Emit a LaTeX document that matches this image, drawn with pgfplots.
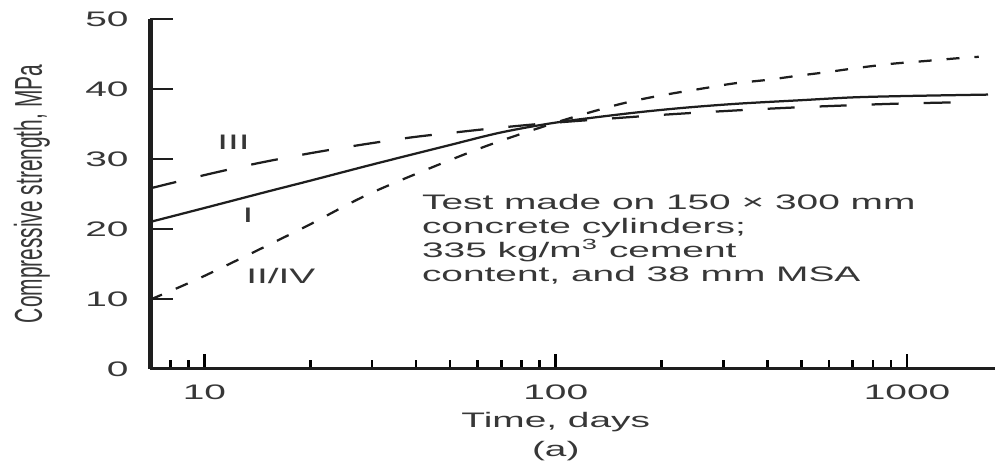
\documentclass[border=0pt]{standalone}
\usepackage{fontspec}
\setmainfont[FakeStretch=1.85]{Liberation Sans}
\newfontfamily\ylabfont[FakeStretch=0.54]{Liberation Sans}
\usepackage{pgfplots}
\pgfplotsset{compat=1.18}
\definecolor{txt}{RGB}{55,55,55}
\definecolor{ln}{RGB}{30,30,30}
\newcommand\f{\fontsize{8.4}{9.6}\selectfont}
\begin{document}
\begin{tikzpicture}
\begin{axis}[name=ax, scale only axis, width=338pt, height=140pt,
  xmode=log, xmin=7, xmax=1780, ymin=0, ymax=50, clip=false,
  axis lines=left, axis line style={-, ln},
  x axis line style={line width=1.2pt}, y axis line style={line width=2pt},
  ytick={0,10,20,30,40,50}, yticklabels={0,10,20,30,40,50},
  xtick={10,100,1000}, xticklabels={10,100,1000},
  minor xtick={8,9,20,30,40,50,60,70,80,90,200,300,400,500,600,700,800,900},
  tick align=inside,
  major tick length=6pt, minor tick length=3.4pt,
  xtick style={black, line width=1.1pt},
  minor x tick style={black, line width=1.1pt},
  ytick style={ln, line width=1.1pt, /pgfplots/major tick length=9.2pt},
  yticklabel style={anchor=east, inner sep=0pt, xshift=-8.4pt, text=txt, font=\f},
  xticklabel style={anchor=base, inner sep=0pt, yshift=-12.4pt, text=txt, font=\f},
]
% Type I (solid)
\addplot[ln, line width=0.9pt, smooth] coordinates {
 (7,21.0) (10,23.0) (15,25.3) (20,26.9) (30,29.2) (50,32.0) (70,33.8) (100,35.2)
 (160,36.5) (230,37.3) (330,37.9) (500,38.4) (700,38.8) (1000,39.0) (1700,39.2)};
% Type III (long dash)
\addplot[ln, line width=0.9pt, smooth, dash pattern=on 10.8pt off 10pt] coordinates {
 (7,25.8) (10.2,27.8) (14.2,29.4) (19.9,30.8) (27.7,32.0) (39,33.1) (54,33.9) (70,34.5)
 (100,35.2) (200,36.3) (316,36.9) (450,37.3) (630,37.6) (930,37.9) (1400,38.1)};
% Type II/IV (short dash)
\addplot[ln, line width=0.9pt, smooth, dash pattern=on 5.2pt off 6pt] coordinates {
 (7,9.9) (10,13.3) (19,20.1) (30,25.2) (60,31.4) (100,35.2) (146,37.6) (178,38.6)
 (217,39.4) (264,40.1) (322,40.8) (400,41.3) (490,41.9) (590,42.4) (720,43.0)
 (905,43.6) (1130,44.0) (1400,44.4) (1600,44.6)};
\node[text=txt, font=\f, inner sep=0pt] at (axis cs:12.1,32.4) {III};
\node[text=txt, font=\f, inner sep=0pt] at (axis cs:13.3,22.0) {I};
\node[text=txt, font=\f, inner sep=0pt] at (axis cs:16.5,13.3) {II/IV};
\node[text=txt, font=\f, inner sep=0pt, anchor=north west, align=left] at (axis cs:41.5,25.1)
 {Test made on 150 × 300 mm\\concrete cylinders;\\335 kg/m\textsuperscript{3} cement\\content, and 38 mm MSA};
\node[text=txt, font=\f, inner sep=0pt, anchor=base, yshift=-23.6pt] at (axis cs:100,0) {Time, days};
\node[text=txt, font=\f, inner sep=0pt, anchor=base, yshift=-35.2pt] at (axis cs:100,0) {(a)};
\end{axis}
\node[rotate=90, anchor=base, inner sep=0pt, text=txt, font=\fontsize{15.5}{18}\ylabfont] at ([xshift=-43.2pt]ax.west) {Compressive strength, MPa};
\pgfresetboundingbox
\path ([shift={(-60pt,-38.8pt)}]ax.south west) rectangle ([shift={(0.4pt,7.6pt)}]ax.north east);
\end{tikzpicture}
\end{document}
